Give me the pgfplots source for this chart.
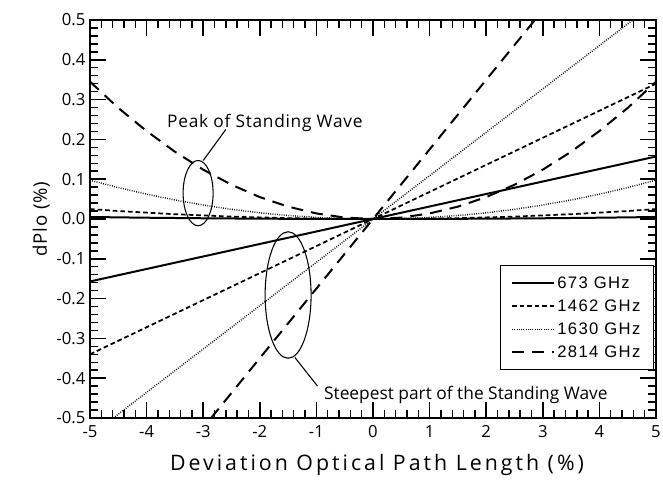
\documentclass[border=0pt]{standalone}
\usepackage{pgfplots}
\pgfplotsset{compat=1.18}
\usepackage{fontspec}
\setmainfont{Open Sans}
\newfontfamily\legfont[LetterSpace=8]{Liberation Sans}
\newfontfamily\labfont[LetterSpace=14]{Open Sans}
\newfontfamily\annfont[LetterSpace=4]{Open Sans}
\begin{document}
\begin{tikzpicture}
\begin{axis}[
  scale only axis,
  width=424.5pt, height=298.5pt,
  xmin=-5, xmax=5, ymin=-0.5, ymax=0.5,
  xtick={-5,-4,...,5},
  ytick={-0.5,-0.4,...,0.5},
  minor x tick num=4, minor y tick num=4,
  tick align=inside,
  xtick pos=both, ytick pos=both,
  tickwidth=12pt, subtickwidth=6pt,
  tick style={black, line width=1.1pt},
  axis line style={line width=1.1pt},
  /pgf/number format/assume math mode=true,
  yticklabel style={/pgf/number format/fixed, /pgf/number format/fixed zerofill, /pgf/number format/precision=1},
  ticklabel style={font=\fontsize{12.5}{14}\selectfont},
  xticklabel style={yshift=-2pt},
  xlabel={Deviation Optical Path Length (\%)},
  ylabel={dPlo (\%)},
  xlabel style={font=\labfont\fontsize{16}{18}\selectfont, yshift=-6pt, xshift=3pt},
  ylabel style={font=\annfont\fontsize{14}{16}\selectfont, yshift=-2pt},
  legend style={at={(0.997,0.12)}, anchor=south east, draw=black, line width=0.8pt,
    font=\legfont\fontsize{12.5}{14}\selectfont, row sep=3pt, inner xsep=8pt, inner ysep=6pt},
  legend cell align=left,
  legend image code/.code={\draw[#1] (0cm,0cm) -- (1.1cm,0cm);},
  clip=true,
]
% linear (steepest part)
\addplot[black, line width=1.5pt] coordinates {(-5,-0.157) (5,0.157)};
\addlegendentry{673 GHz}
\addplot[black, line width=1.3pt, dash pattern=on 3.5pt off 2.2pt] coordinates {(-5,-0.34) (5,0.34)};
\addlegendentry{1462 GHz}
\addplot[black, line width=1.1pt, dash pattern=on 0.6pt off 1.1pt] coordinates {(-4.59,-0.5) (4.59,0.5)};
\addlegendentry{1630 GHz}
\addplot[black, line width=1.5pt, dash pattern=on 9pt off 6pt] coordinates {(-2.86,-0.5) (2.86,0.5)};
\addlegendentry{2814 GHz}
% parabolas (peak)
\addplot[black, line width=1.5pt, forget plot] coordinates {
(-5,0.005) (-4,0.0032) (-3,0.0018) (-2,0.0008) (-1,0.0002) (0,0) (1,0.0002) (2,0.0008) (3,0.0018) (4,0.0032) (5,0.005)};
\addplot[black, line width=1.3pt, dash pattern=on 3.5pt off 2.2pt, forget plot] coordinates {
(-5,0.025) (-4.5,0.020) (-4,0.016) (-3.5,0.012) (-3,0.009) (-2.5,0.006) (-2,0.004) (-1.5,0.002) (-1,0.001) (-0.5,0.0003) (0,0)
(0.5,0.0003) (1,0.001) (1.5,0.002) (2,0.004) (2.5,0.006) (3,0.009) (3.5,0.012) (4,0.016) (4.5,0.020) (5,0.025)};
\addplot[black, line width=1.1pt, dash pattern=on 0.6pt off 1.1pt, forget plot] coordinates {
(-5,0.0975) (-4.5,0.079) (-4,0.0624) (-3.5,0.0478) (-3,0.0351) (-2.5,0.0244) (-2,0.0156) (-1.5,0.0088) (-1,0.0039) (-0.5,0.001) (0,0)
(0.5,0.001) (1,0.0039) (1.5,0.0088) (2,0.0156) (2.5,0.0244) (3,0.0351) (3.5,0.0478) (4,0.0624) (4.5,0.079) (5,0.0975)};
\addplot[black, line width=1.5pt, dash pattern=on 9pt off 6pt, forget plot] coordinates {
(-5,0.345) (-4.5,0.279) (-4,0.221) (-3.5,0.169) (-3,0.124) (-2.5,0.086) (-2,0.055) (-1.5,0.031) (-1,0.014) (-0.5,0.0035) (0,0)
(0.5,0.0035) (1,0.014) (1.5,0.031) (2,0.055) (2.5,0.086) (3,0.124) (3.5,0.169) (4,0.221) (4.5,0.279) (5,0.345)};
% annotations
\draw[line width=0.8pt] (axis cs:-3.09,0.065) ellipse [x radius=0.265, y radius=0.082];
\draw[line width=0.8pt] (axis cs:-3.0,0.147) -- (axis cs:-2.6,0.225);
\node[font=\annfont\fontsize{13}{15}\selectfont] at (axis cs:-1.91,0.241) {Peak of Standing Wave};
\draw[line width=0.8pt] (axis cs:-1.50,-0.191) ellipse [x radius=0.406, y radius=0.159];
\draw[line width=0.8pt] (axis cs:-1.38,-0.348) -- (axis cs:-0.98,-0.42);
\node[font=\fontsize{13}{15}\selectfont] at (axis cs:1.64,-0.442) {Steepest part of the Standing Wave};
\end{axis}
\pgfresetboundingbox
\path (current axis.south west) ++(-67.5pt,-50.25pt) coordinate (bl);
\path (current axis.north east) ++(5.25pt,15pt) coordinate (tr);
\path[use as bounding box] (bl) rectangle (tr);
\end{tikzpicture}
\end{document}
